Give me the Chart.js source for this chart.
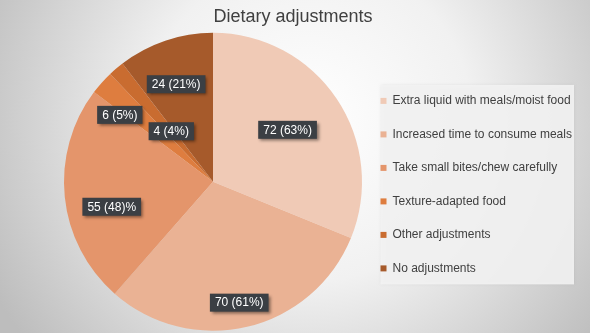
<!DOCTYPE html>
<html>
<head>
<meta charset="utf-8">
<script src="https://cdn.jsdelivr.net/npm/chart.js@4"></script>
<style>
  html, body { margin: 0; padding: 0; background: #e6e6e6; }
  #wrap { width: 590px; height: 333px; }
</style>
</head>
<body>
<div id="wrap"><canvas id="pie"></canvas></div>
<script>
// data
const categories = [
    'Extra liquid with meals/moist food',
    'Increased time to consume meals',
    'Take small bites/chew carefully',
    'Texture-adapted food',
    'Other adjustments',
    'No adjustments',
];
const counts = [72, 70, 55, 6, 4, 24];
const sliceLabels = ['72 (63%)', '70 (61%)', '55 (48)%', '6 (5%)', '4 (4%)', '24 (21%)'];

const palette = ['#f0cab6', '#eab294', '#e4956b', '#de7d3f', '#c96c30', '#a65a2b'];

// where each callout box sits: share of radius, and turn from slice middle (deg)
const labelRadius = [0.61, 0.83, 0.70, 0.77, 0.44, 0.70];
const labelTurn = [-1, 1, -8, -6, 1, -2];

const FONT = "'Liberation Sans', Arial, sans-serif";

/** page background: soft radial grey */
const backdrop = {
    id: 'backdrop',
    beforeDraw(chart) {
        const { ctx, width, height } = chart;
        ctx.save();
        const g = ctx.createRadialGradient(310, 120, 0, 310, 120, 360);
        g.addColorStop(0, '#ffffff');
        g.addColorStop(0.45, '#f1f1f1');
        g.addColorStop(1, '#bdbdbd');
        ctx.fillStyle = g;
        ctx.fillRect(0, 0, width, height);

        // light panel behind the legend
        const boxes = chart.legend.legendHitBoxes;
        if (boxes && boxes.length) {
            const first = boxes[0];
            const last = boxes[boxes.length - 1];
            const x = first.left;
            const y = first.top - 10;
            const w = 574 - x;
            const h = last.top + last.height + 10 - y;
            ctx.shadowColor = 'rgba(0,0,0,0.12)';
            ctx.shadowBlur = 3;
            ctx.fillStyle = 'rgba(243,243,243,0.9)';
            ctx.fillRect(x, y, w, h);
        }
        ctx.restore();
    },
};

/** fixed legend width so the pie keeps its place; title centred on the page */
const boxTweaks = {
    id: 'boxTweaks',
    afterInit(chart) {
        const lg = chart.legend;
        const fit = lg.fit.bind(lg);
        lg.fit = () => {
            fit();
            lg.width = 228;
        };
    },
    afterLayout(chart) {
        chart.legend.left -= 3;
        chart.legend.right -= 3;
        chart.titleBlock.left = 0;
        chart.titleBlock.right = 586;
    },
};

/** dark callout boxes with the counts */
const callouts = {
    id: 'callouts',
    afterDatasetsDraw(chart) {
        const { ctx } = chart;
        const arcs = chart.getDatasetMeta(0).data;
        ctx.save();
        ctx.font = '12px ' + FONT;
        ctx.textAlign = 'center';
        ctx.textBaseline = 'middle';
        arcs.forEach((arc, i) => {
            const { x, y, startAngle, endAngle, outerRadius } = arc.getProps(['x', 'y', 'startAngle', 'endAngle', 'outerRadius'], true);
            const mid = (startAngle + endAngle) / 2 + labelTurn[i] * Math.PI / 180;
            const r = outerRadius * labelRadius[i];
            const cx = x + Math.cos(mid) * r;
            const cy = y + Math.sin(mid) * r;
            const text = sliceLabels[i];
            const w = ctx.measureText(text).width + 10;
            const h = 18;
            ctx.shadowColor = 'rgba(0,0,0,0.45)';
            ctx.shadowBlur = 3;
            ctx.shadowOffsetX = 2;
            ctx.shadowOffsetY = 2;
            ctx.fillStyle = '#3b3f44';
            ctx.fillRect(cx - w / 2, cy - h / 2, w, h);
            ctx.shadowColor = 'transparent';
            ctx.fillStyle = '#ffffff';
            ctx.fillText(text, cx, cy + 0.5);
        });
        ctx.restore();
    },
};

new Chart(document.getElementById('pie'), {
    type: 'pie',
    data: {
        labels: categories,
        datasets: [{
            data: counts,
            backgroundColor: palette,
            borderWidth: 0,
            hoverOffset: 0,
            offset: 0,
        }],
    },
    options: {
        responsive: true,
        maintainAspectRatio: false,
        animation: false,
        events: [],
        layout: { padding: { left: 64, right: 0, top: 0, bottom: 2 } },
        plugins: {
            title: {
                display: true,
                text: 'Dietary adjustments',
                color: '#404040',
                font: { family: FONT, size: 18, weight: 'normal' },
                padding: { top: 6, bottom: 5 },
            },
            legend: {
                position: 'right',
                align: 'start',
                // empty title only pushes the items down
                title: {
                    display: true,
                    text: ' ',
                    font: { family: FONT, size: 12 },
                    padding: 29.5,
                },
                labels: {
                    color: '#404040',
                    font: { family: FONT, size: 12 },
                    boxWidth: 6,
                    boxHeight: 6,
                    padding: 21.5,
                },
            },
            tooltip: { enabled: false },
        },
    },
    plugins: [backdrop, boxTweaks, callouts],
});
</script>
</body>
</html>
